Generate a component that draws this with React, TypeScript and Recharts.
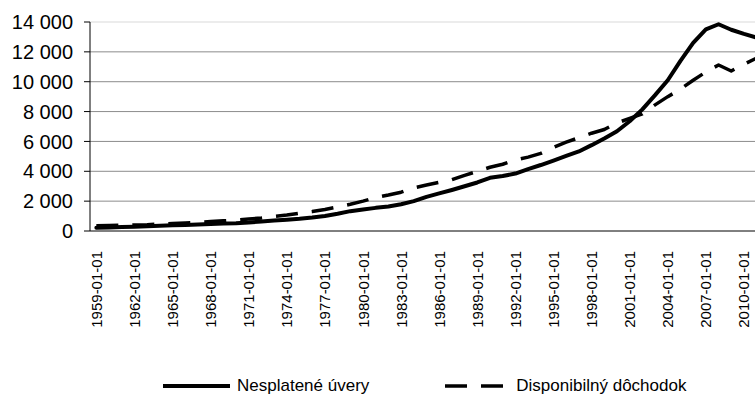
import { CartesianGrid, Line, LineChart, ReferenceLine, XAxis, YAxis } from 'recharts'

const roky = [
  1959, 1960, 1961, 1962, 1963, 1964, 1965, 1966, 1967, 1968, 1969, 1970, 1971, 1972, 1973, 1974, 1975, 1976,
  1977, 1978, 1979, 1980, 1981, 1982, 1983, 1984, 1985, 1986, 1987, 1988, 1989, 1990, 1991, 1992, 1993, 1994,
  1995, 1996, 1997, 1998, 1999, 2000, 2001, 2002, 2003, 2004, 2005, 2006, 2007, 2008, 2009, 2010, 2011,
]

// mld. USD, ročné hodnoty
const nesplateneUvery = [
  220, 240, 260, 285, 315, 345, 380, 405, 430, 465, 500, 520, 570, 640, 705, 760, 815, 900, 1010, 1160, 1330,
  1440, 1550, 1640, 1790, 2000, 2290, 2520, 2750, 3000, 3250, 3560, 3680, 3850, 4150, 4420, 4720, 5030, 5330,
  5750, 6200, 6680, 7350, 8150, 9100, 10100, 11400, 12600, 13500, 13850, 13480, 13200, 12950,
]

const disponibilnyDochodok = [
  350, 365, 385, 405, 425, 465, 500, 540, 580, 630, 680, 735, 800, 870, 980, 1070, 1190, 1300, 1440, 1610, 1790,
  2000, 2240, 2410, 2600, 2890, 3080, 3260, 3440, 3730, 3990, 4270, 4470, 4760, 4950, 5200, 5600, 5950, 6250,
  6550, 6800, 7230, 7550, 7850, 8450, 9000, 9500, 10100, 10650, 11120, 10720, 11170, 11580,
]

const yTicks = [0, 2000, 4000, 6000, 8000, 10000, 12000, 14000]
// hranice kategórií (značky na osi) a popisy každý tretí rok
const xHranice = roky.filter((_, i) => i % 3 === 0 && i < 52).map((r) => r - 0.5)
const xPopisy = roky.filter((_, i) => i % 3 === 0 && i < 52)

const serie = [
  { key: 'uvery', name: 'Nesplatené úvery', width: 4, dash: undefined as string | undefined, cap: 'round' },
  { key: 'dochodok', name: 'Disponibilný dôchodok', width: 3.5, dash: '22 14', cap: 'butt' },
] as const

const data = roky.map((rok, i) => ({
  rok,
  uvery: nesplateneUvery[i],
  dochodok: disponibilnyDochodok[i],
}))

const font = '"Liberation Sans", Arial, sans-serif'

const formatTisice = (v: number) => String(v).replace(/\B(?=(\d{3})+(?!\d))/g, ' ')

function PopisRoku({ x, y, payload }: any) {
  return (
    <text
      x={x}
      y={y}
      transform={`rotate(-90 ${x} ${y})`}
      textAnchor="end"
      dominantBaseline="central"
      fontSize={15}
      fontFamily={font}
      fill="#000"
    >
      {`${payload.value}-01-01`}
    </text>
  )
}

export default function App() {
  return (
    <div
      style={{
        position: 'absolute',
        left: 0,
        top: 0,
        width: 755,
        height: 412,
        overflow: 'hidden',
        background: '#fff',
        fontFamily: font,
      }}
    >
      <LineChart width={763} height={412} data={data} margin={{ top: 22, right: 0, bottom: 0, left: 0 }}>
        <CartesianGrid vertical={false} stroke="#8c8c8c" horizontalValues={yTicks.slice(1, -1)} />
        <ReferenceLine y={14000} stroke="#d9d9d9" />
        <XAxis
          xAxisId="kat"
          dataKey="rok"
          type="number"
          domain={[1958.5, 2011.5]}
          ticks={xHranice}
          interval={0}
          height={8}
          tick={false}
          tickSize={7}
          stroke="#000"
          tickLine={{ stroke: '#000' }}
        />
        <XAxis
          xAxisId="popis"
          dataKey="rok"
          type="number"
          domain={[1958.5, 2011.5]}
          ticks={xPopisy}
          interval={0}
          height={173}
          axisLine={false}
          tickLine={false}
          tickSize={0}
          tickMargin={12}
          tick={<PopisRoku />}
        />
        <YAxis
          width={90}
          domain={[0, 14000]}
          ticks={yTicks}
          interval={0}
          tickFormatter={formatTisice}
          tickSize={6}
          tickMargin={11}
          stroke="#000"
          tick={{ fill: '#000', fontSize: 20, fontFamily: font }}
        />
        {serie.map((s) => (
          <Line
            key={s.key}
            xAxisId="kat"
            type="linear"
            dataKey={s.key}
            name={s.name}
            stroke="#000"
            strokeWidth={s.width}
            strokeDasharray={s.dash}
            strokeLinecap={s.cap}
            strokeLinejoin="round"
            dot={false}
            isAnimationActive={false}
          />
        ))}
      </LineChart>
      <div
        style={{
          position: 'absolute',
          left: 163,
          top: 376,
          display: 'flex',
          alignItems: 'center',
          fontSize: 17,
          color: '#000',
        }}
      >
        {serie.map((s, i) => (
          <div key={s.key} style={{ display: 'flex', alignItems: 'center', marginLeft: i === 0 ? 0 : 76 }}>
            <svg width={67} height={20}>
              <line x1={0} y1={10} x2={67} y2={10} stroke="#000" strokeWidth={s.width} strokeDasharray={s.dash} />
            </svg>
            <span style={{ marginLeft: i === 0 ? 7 : 4 }}>{s.name}</span>
          </div>
        ))}
      </div>
    </div>
  )
}
